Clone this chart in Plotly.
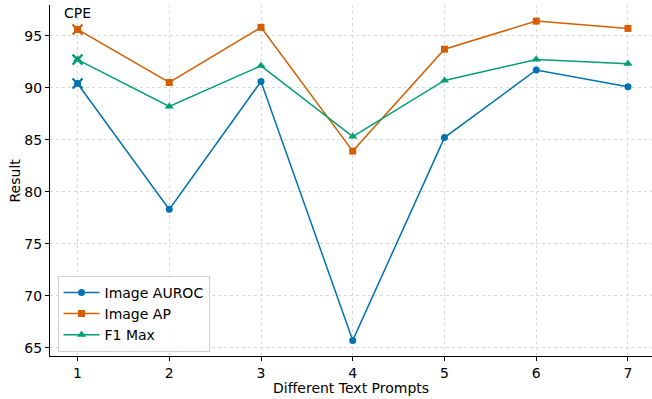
import plotly.graph_objects as go

prompts = [1, 2, 3, 4, 5, 6, 7]
auroc = [90.4, 78.3, 90.6, 65.7, 85.2, 91.7, 90.1]
ap = [95.6, 90.5, 95.8, 83.9, 93.7, 96.4, 95.7]
f1 = [92.7, 88.2, 92.1, 85.3, 90.7, 92.7, 92.3]
names = ["Image AUROC", "Image AP", "F1 Max"]
colors = ["#0072B2", "#D55E00", "#009E73"]
symbols = ["circle", "square", "triangle-up"]
msizes = [7, 7, 8]

fig = go.Figure()
for ys, n, c, s, ms in zip([auroc, ap, f1], names, colors, symbols, msizes):
    fig.add_trace(go.Scatter(x=prompts, y=ys, name=n, mode="lines+markers",
                             line=dict(color=c, width=1.5),
                             marker=dict(symbol=s, size=ms, color=c)))
for ys, c in zip([auroc, ap, f1], colors):
    fig.add_trace(go.Scatter(x=prompts[:1], y=ys[:1], mode="markers", showlegend=False,
                             marker=dict(symbol="x-thin", size=10, line=dict(color=c, width=2.2))))

fig.add_annotation(text="CPE", x=0.0, y=1.0, xref="paper", yref="paper",
                   xanchor="left", yanchor="top", xshift=12, yshift=2,
                   showarrow=False, font=dict(size=14, color="black"))
fig.add_annotation(text="Different Text Prompts", x=0.5, y=0, xref="paper", yref="paper",
                   xanchor="center", yanchor="middle", yshift=-32,
                   showarrow=False, font=dict(size=14, color="black"))
fig.add_annotation(text="Result", x=0, y=0.5, xref="paper", yref="paper",
                   xanchor="center", yanchor="middle", xshift=-36, textangle=-90,
                   showarrow=False, font=dict(size=14, color="black"))

axis_common = dict(showline=True, linecolor="black", linewidth=1, ticks="outside",
                   ticklen=4, tickcolor="black", showgrid=True, gridcolor="#d9d9d9",
                   griddash="3px,3px", gridwidth=0.8, zeroline=False, mirror=False,
                   automargin=False, tickfont=dict(size=14, color="black"))
fig.update_layout(
    width=652, height=399,
    margin=dict(l=50, r=0, t=5, b=43),
    plot_bgcolor="white", paper_bgcolor="white",
    font=dict(family="DejaVu Sans", size=14, color="black"),
    xaxis=dict(range=[0.7, 7.262], tickvals=prompts, **axis_common),
    yaxis=dict(range=[64.2, 97.95], tickvals=[65, 70, 75, 80, 85, 90, 95], **axis_common),
    legend=dict(x=0.0125, y=0.012, xanchor="left", yanchor="bottom", bgcolor="rgba(255,255,255,0.85)",
                bordercolor="#d0d0d0", borderwidth=1, font=dict(size=14), tracegroupgap=2,
                itemwidth=36),
    showlegend=True,
)
fig.write_html("out.html", config={"displayModeBar": False},
               post_script="document.body.style.margin='0';document.body.style.overflow='hidden';")
